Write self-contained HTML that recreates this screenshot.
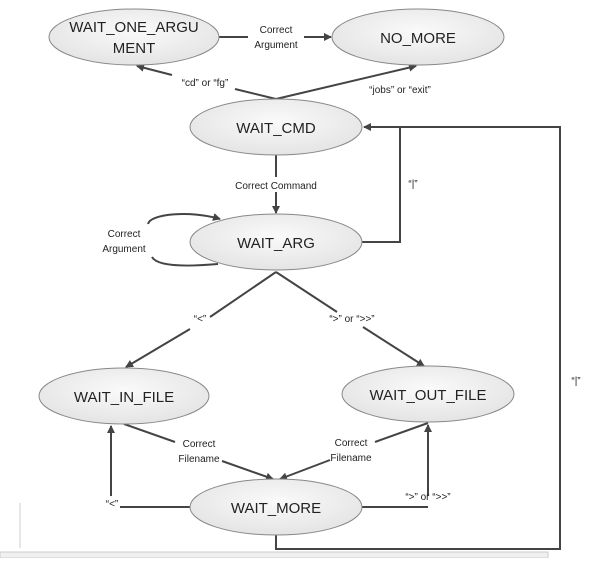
<!DOCTYPE html>
<html><head><style>
body{margin:0;background:#fff;width:591px;height:558px;overflow:hidden}
text{font-family:"Liberation Sans",sans-serif;fill:#222}
.s{font-size:10px}
.b{font-size:15px}
</style></head><body>
<svg width="591" height="558" xmlns="http://www.w3.org/2000/svg">
<defs>
<radialGradient id="g" cx="50%" cy="40%" r="60%"><stop offset="0" stop-color="#fafafa"/><stop offset="1" stop-color="#e4e4e4"/></radialGradient>
<marker id="a" markerWidth="8" markerHeight="8" refX="7" refY="4" orient="auto" markerUnits="userSpaceOnUse"><path d="M0,0 L8,4 L0,8 Z" fill="#444"/></marker>
</defs>
<g stroke="#444" stroke-width="2" fill="none">
<line x1="219" y1="37" x2="248" y2="37"/><line x1="304" y1="37" x2="331" y2="37" marker-end="url(#a)"/>
<line x1="276" y1="99" x2="235" y2="89"/><line x1="172" y1="75" x2="137" y2="66" marker-end="url(#a)"/>
<line x1="276" y1="99" x2="416" y2="66" marker-end="url(#a)"/>
<line x1="276" y1="155" x2="276" y2="177"/><line x1="276" y1="192" x2="276" y2="213" marker-end="url(#a)"/>
<path d="M148,224 C150,214 190,210 220,219" marker-end="url(#a)"/>
<path d="M152,257 C158,268 195,266 218,264"/>
<polyline points="362,242 400,242 400,127 364,127" marker-end="url(#a)"/>
<polyline points="276,535 276,549 560,549 560,127 400,127"/>
<line x1="276" y1="272" x2="210" y2="317"/><line x1="190" y1="329" x2="126" y2="367" marker-end="url(#a)"/>
<line x1="276" y1="272" x2="337" y2="312"/><line x1="363" y1="327" x2="424" y2="366" marker-end="url(#a)"/>
<line x1="124" y1="424" x2="175" y2="442"/><line x1="222" y1="461" x2="273" y2="479" marker-end="url(#a)"/>
<line x1="428" y1="423" x2="375" y2="442"/><line x1="330" y1="460" x2="280" y2="479" marker-end="url(#a)"/>
<polyline points="190,507 120,507"/><line x1="111" y1="496" x2="111" y2="426" marker-end="url(#a)"/>
<polyline points="362,507 428,507"/><line x1="428" y1="496" x2="428" y2="425" marker-end="url(#a)"/>
</g>
<g fill="url(#g)" stroke="#888" stroke-width="1">
<ellipse cx="134" cy="37" rx="85" ry="28"/>
<ellipse cx="418" cy="37" rx="86" ry="28"/>
<ellipse cx="276" cy="127" rx="86" ry="28"/>
<ellipse cx="276" cy="242" rx="86" ry="28"/>
<ellipse cx="124" cy="396" rx="85" ry="28"/>
<ellipse cx="428" cy="394" rx="86" ry="28"/>
<ellipse cx="276" cy="507" rx="86" ry="28"/>
</g>
<g class="b" text-anchor="middle">
<text x="134" y="32">WAIT_ONE_ARGU</text><text x="134" y="53">MENT</text>
<text x="418" y="43">NO_MORE</text>
<text x="276" y="133">WAIT_CMD</text>
<text x="276" y="248">WAIT_ARG</text>
<text x="124" y="402">WAIT_IN_FILE</text>
<text x="428" y="400">WAIT_OUT_FILE</text>
<text x="276" y="513">WAIT_MORE</text>
</g>
<g class="s" text-anchor="middle">
<text x="276" y="33">Correct</text><text x="276" y="48">Argument</text>
<text x="205" y="86">“cd” or “fg”</text>
<text x="400" y="93">“jobs” or “exit”</text>
<text x="276" y="189">Correct Command</text>
<text x="124" y="237">Correct</text><text x="124" y="252">Argument</text>
<text x="413" y="187">“|”</text>
<text x="200" y="322">“&lt;”</text>
<text x="352" y="322">“&gt;” or “&gt;&gt;”</text>
<text x="199" y="447">Correct</text><text x="199" y="462">Filename</text>
<text x="351" y="446">Correct</text><text x="351" y="461">Filename</text>
<text x="112" y="507">“&lt;”</text>
<text x="428" y="500">“&gt;” or “&gt;&gt;”</text>
<text x="576" y="384">“|”</text>
</g>
<line x1="20" y1="503" x2="20" y2="548" stroke="#ccc"/>
<rect x="0" y="552" width="548" height="6" fill="#f0f0f0" stroke="#ccc"/>
</svg>
</body></html>
